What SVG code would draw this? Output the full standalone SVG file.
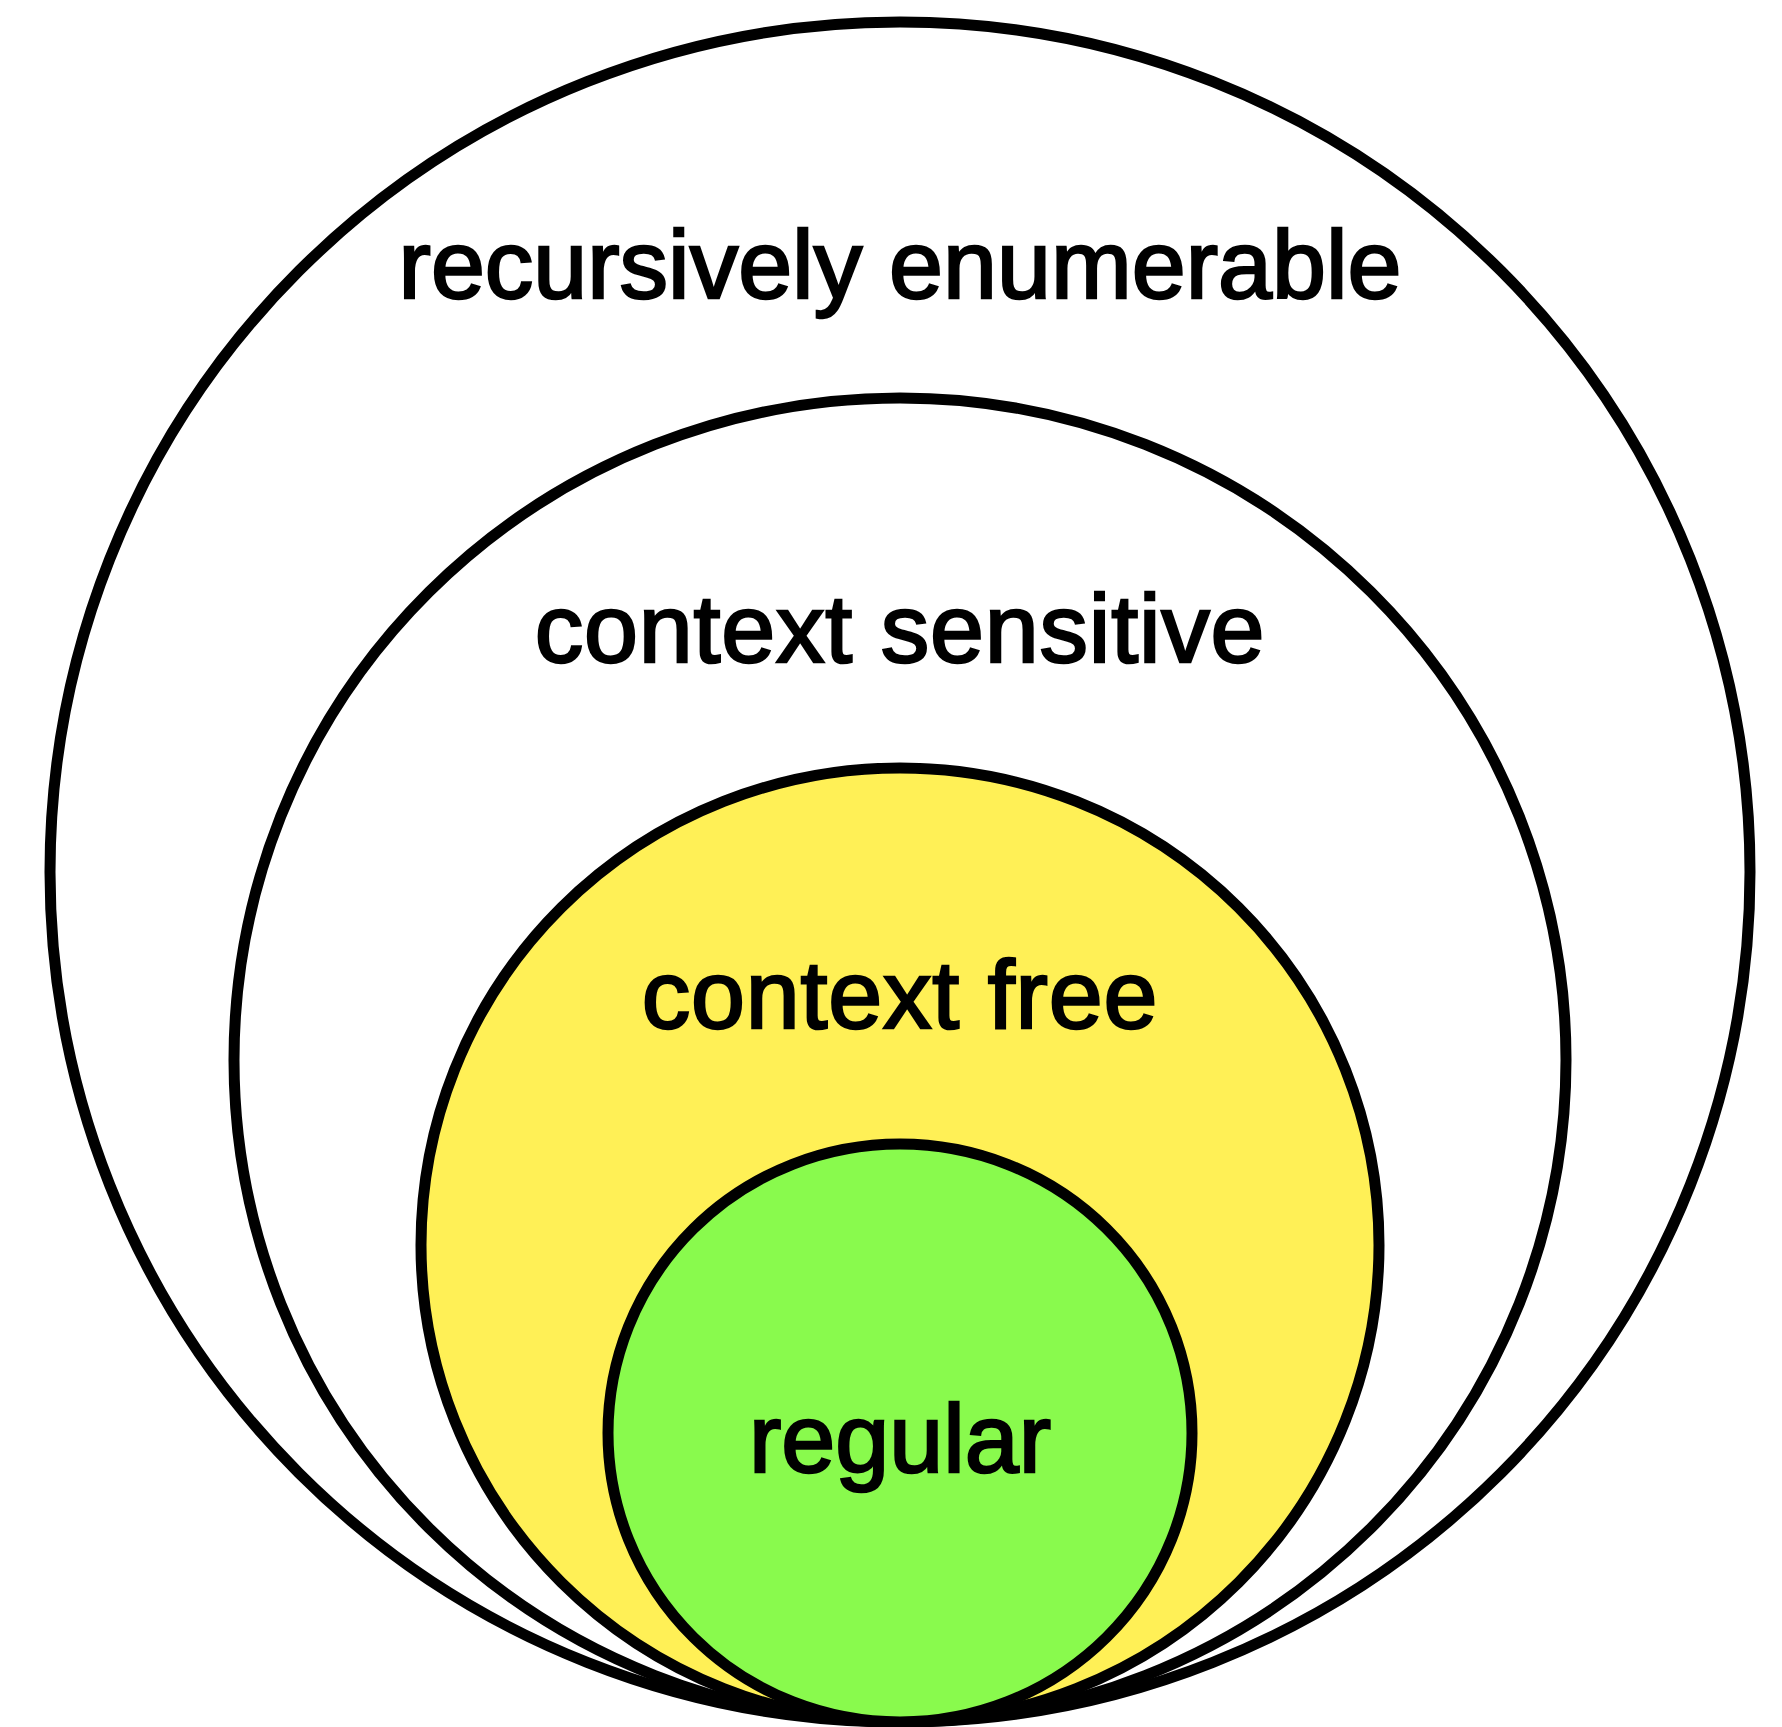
<svg xmlns="http://www.w3.org/2000/svg" width="1782" height="1727" viewBox="0 0 1782 1727">
<style>
.set{stroke:#000;stroke-width:11}
.lbl{font-family:"Liberation Sans",Arial,sans-serif;font-size:97px;fill:#000;stroke:#000;stroke-width:2.5;text-anchor:middle}
</style>
<rect x="0" y="0" width="1782" height="1727" fill="#fff"/>
<g id="recursively-enumerable">
<ellipse class="set" cx="900" cy="872" rx="850" ry="850" fill="#fff"/>
<text class="lbl" x="900" y="298">recursively enumerable</text>
</g>
<g id="context-sensitive">
<ellipse class="set" cx="900" cy="1060" rx="666" ry="662" fill="#fff"/>
<text class="lbl" x="900" y="662" letter-spacing="0.8">context sensitive</text>
</g>
<g id="context-free">
<ellipse class="set" cx="900" cy="1245" rx="479" ry="477" fill="#FFF056"/>
<text class="lbl" x="900" y="1028" letter-spacing="0.8">context free</text>
</g>
<g id="regular">
<ellipse class="set" cx="900" cy="1433" rx="292" ry="289" fill="#89FA4D"/>
<text class="lbl" x="900" y="1472">regular</text>
</g>
<g id="connectors"></g>
</svg>
